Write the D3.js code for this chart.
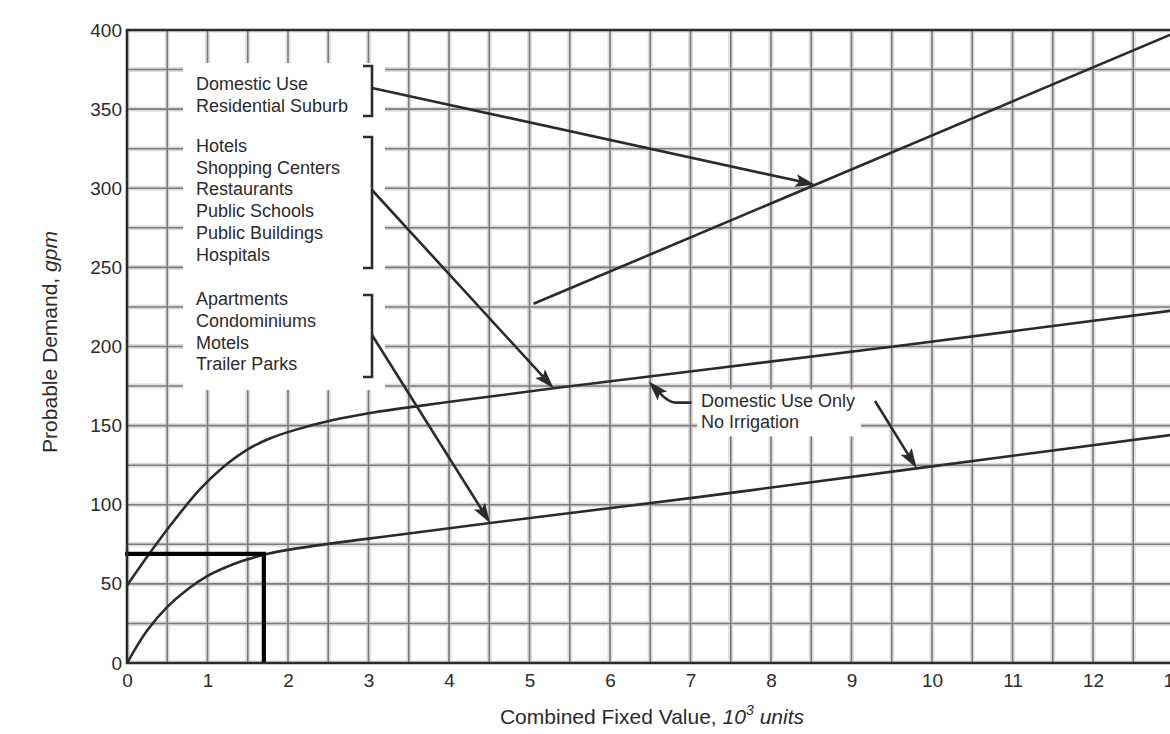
<!DOCTYPE html>
<html>
<head>
<meta charset="utf-8">
<script src="https://cdn.jsdelivr.net/npm/d3@7"></script>
<style>
  html, body { margin: 0; padding: 0; background: #fff; }
  svg { display: block; font-family: "Liberation Sans", Arial, Helvetica, sans-serif; }
</style>
</head>
<body>
<svg id="chart" width="1170" height="734"></svg>
<script>
// Axis tick values
const xTickValues = [0, 1, 2, 3, 4, 5, 6, 7, 8, 9, 10, 11, 12, 13];
const yTickValues = [0, 50, 100, 150, 200, 250, 300, 350, 400];

// Demand curves: [combined fixed value (10^3 units), probable demand (gpm)]
const residentialSuburb = [[5.05, 227], [13.1, 400]];
const commercialInstitutional = [
  [0, 49], [0.29, 70], [0.6, 91], [0.91, 110], [1.2, 124], [1.5, 135],
  [1.78, 142], [2.07, 147], [2.56, 153.5], [3.06, 158.3], [3.64, 162.5],
  [4.2, 166.3], [5.3, 173.6], [7.12, 185], [9.6, 200.5], [12.96, 222.5], [14, 229]
];
const multiFamily = [
  [0, 0], [0.25, 20.5], [0.5, 35.5], [0.75, 46.5], [1.0, 55], [1.25, 61],
  [1.5, 65.5], [1.75, 69], [2.0, 71.5], [2.5, 75.3], [3.0, 78.6], [3.5, 81.8],
  [4.51, 88.5], [7.12, 105], [9.81, 123], [12.96, 144], [14, 151]
];

// Worked example: read-off value and demand
const exampleValue = 1.7;
const exampleDemand = 69;

// Category groups listed in the key
const groupSuburb = ["Domestic Use", "Residential Suburb"];
const groupCommercial = ["Hotels", "Shopping Centers", "Restaurants", "Public Schools", "Public Buildings", "Hospitals"];
const groupMultiFamily = ["Apartments", "Condominiums", "Motels", "Trailer Parks"];
const noteLines = ["Domestic Use Only", "No Irrigation"];

// Where each pointer touches its curve (x in 10^3 units)
const pointerSuburbX = 8.55;
const pointerCommercialX = 5.3;
const pointerMultiX = 4.51;
const pointerNoteMultiX = 9.81;
const pointerNoteCommercialX = 6.48;

const svg = d3.select("#chart");
const ink = "#2b2b2b";

const x = d3.scaleLinear().domain([0, 14]).range([127, 1254]);
const y = d3.scaleLinear().domain([0, 400]).range([663, 30]);

svg.append("defs").append("clipPath").attr("id", "plot-clip")
  .append("rect")
  .attr("x", x(0)).attr("y", y(400))
  .attr("width", x(14) - x(0)).attr("height", y(0) - y(400));

// Grid: every 0.5 unit and every 25 gpm
const gridX = d3.range(0, 14.001, 0.5);
const gridY = d3.range(0, 400.001, 25);
const grid = svg.append("g").attr("clip-path", "url(#plot-clip)");
[["#dedede", 5], ["#7c7c7c", 1.6]].forEach(([color, w]) => {
  grid.append("g").selectAll("line").data(gridX).join("line")
    .attr("x1", d => x(d)).attr("x2", d => x(d))
    .attr("y1", y(0)).attr("y2", y(400))
    .attr("stroke", color).attr("stroke-width", w);
  grid.append("g").selectAll("line").data(gridY).join("line")
    .attr("x1", x(0)).attr("x2", x(14))
    .attr("y1", d => y(d)).attr("y2", d => y(d))
    .attr("stroke", color).attr("stroke-width", w);
});

// Blank panel behind the key
svg.append("rect").attr("x", 183).attr("y", 63).attr("width", 202).attr("height", 327).attr("fill", "#fff");

// Curves
const curveLine = d3.line().x(d => x(d[0])).y(d => y(d[1])).curve(d3.curveCatmullRom.alpha(0.5));
const curves = svg.append("g").attr("clip-path", "url(#plot-clip)");
[residentialSuburb, commercialInstitutional, multiFamily].forEach(series => {
  curves.append("path").attr("d", curveLine(series))
    .attr("fill", "none").attr("stroke", ink).attr("stroke-width", 2.6);
});

// Worked example lines
svg.append("path")
  .attr("d", `M${x(0) - 2},${y(exampleDemand)}H${x(exampleValue)}V${y(0)}`)
  .attr("fill", "none").attr("stroke", "#000").attr("stroke-width", 4.2);

// Frame and axes
const frame = svg.append("g").attr("stroke", ink).attr("stroke-width", 2.6).attr("fill", "none");
frame.append("path").attr("d", `M${x(14)},${y(400)}H${x(0)}V${y(0)}H${x(14)}`);

const xAxis = svg.append("g").attr("transform", `translate(0,${y(0)})`)
  .call(d3.axisBottom(x).tickValues(xTickValues).tickSize(0).tickPadding(11).tickFormat(d3.format("d")));
const yAxis = svg.append("g").attr("transform", `translate(${x(0)},0)`)
  .call(d3.axisLeft(y).tickValues(yTickValues).tickSize(0).tickPadding(5).tickFormat(d3.format("d")));
[xAxis, yAxis].forEach(a => {
  a.select(".domain").remove();
  a.selectAll("text").attr("font-size", 19).attr("fill", ink)
    .attr("font-family", '"Liberation Sans", Arial, Helvetica, sans-serif');
});

// Axis titles
const xTitle = svg.append("text").attr("x", 652).attr("y", 724)
  .attr("text-anchor", "middle").attr("font-size", 21).attr("fill", ink);
xTitle.append("tspan").text("Combined Fixed Value, ");
xTitle.append("tspan").attr("font-style", "italic").text("10");
xTitle.append("tspan").attr("font-style", "italic").attr("font-size", 14).attr("dy", -9).text("3");
xTitle.append("tspan").attr("font-style", "italic").attr("dy", 9).attr("dx", 6).text("units");

const yTitle = svg.append("text").attr("transform", "translate(57,342) rotate(-90)")
  .attr("text-anchor", "middle").attr("font-size", 21).attr("fill", ink);
yTitle.append("tspan").text("Probable Demand, ");
yTitle.append("tspan").attr("font-style", "italic").text("gpm");

// Key text and brackets
const key = svg.append("g").attr("font-size", 18).attr("fill", ink);
const groups = [
  { lines: groupSuburb, first: 90, top: 66, bottom: 116, from: [372, 88] },
  { lines: groupCommercial, first: 151.7, top: 137, bottom: 268, from: [372, 190] },
  { lines: groupMultiFamily, first: 305, top: 295, bottom: 377, from: [372, 335] }
];
const lineStep = 21.8;
groups.forEach(gp => {
  gp.lines.forEach((t, i) => {
    key.append("text").attr("x", 196).attr("y", gp.first + i * lineStep).text(t);
  });
  svg.append("path").attr("d", `M363,${gp.top}H372V${gp.bottom}H363`)
    .attr("fill", "none").attr("stroke", ink).attr("stroke-width", 2.6);
});

// Value of a series at a given x
function valueAt(series, vx) {
  for (let i = 1; i < series.length; i++) {
    const [x0, y0] = series[i - 1], [x1, y1] = series[i];
    if (vx <= x1) return y0 + (y1 - y0) * (vx - x0) / (x1 - x0);
  }
  return series[series.length - 1][1];
}

// Arrowhead at tip, pointing away from `from`; returns where the shaft should end
function arrowHead(tip, from) {
  const dx = tip[0] - from[0], dy = tip[1] - from[1];
  const len = Math.hypot(dx, dy), ux = dx / len, uy = dy / len;
  const L = 20, W = 6.5;
  const bx = tip[0] - ux * L, by = tip[1] - uy * L;
  svg.append("path")
    .attr("d", `M${tip[0]},${tip[1]}L${bx - uy * W},${by + ux * W}L${tip[0] - ux * (L - 4)},${tip[1] - uy * (L - 4)}L${bx + uy * W},${by - ux * W}Z`)
    .attr("fill", ink);
  return [tip[0] - ux * (L - 5), tip[1] - uy * (L - 5)];
}

function straightArrow(from, tip) {
  const end = arrowHead(tip, from);
  svg.append("line").attr("x1", from[0]).attr("y1", from[1]).attr("x2", end[0]).attr("y2", end[1])
    .attr("stroke", ink).attr("stroke-width", 2.6);
}

const tipSuburb = [x(pointerSuburbX), y(valueAt(residentialSuburb, pointerSuburbX))];
const tipCommercial = [x(pointerCommercialX), y(valueAt(commercialInstitutional, pointerCommercialX))];
const tipMulti = [x(pointerMultiX), y(valueAt(multiFamily, pointerMultiX))];
straightArrow(groups[0].from, tipSuburb);
straightArrow(groups[1].from, tipCommercial);
straightArrow(groups[2].from, tipMulti);

// Note with its own panel and two pointers
const note = svg.append("g");
const noteBg = note.append("rect").attr("fill", "#fff");
const noteText = note.append("g").attr("font-size", 18).attr("fill", ink);
noteLines.forEach((t, i) => noteText.append("text").attr("x", 701).attr("y", 407.3 + i * 21).text(t));
const nb = noteText.node().getBBox();
noteBg.attr("x", nb.x - 4).attr("y", nb.y - 2).attr("width", nb.width + 10).attr("height", nb.height + 6);

// Hooked pointer up to the commercial curve
const tipHook = [x(pointerNoteCommercialX), y(valueAt(commercialInstitutional, pointerNoteCommercialX)) + 5];
const hookStart = [tipHook[0] + 43, tipHook[1] + 21];
const hookCorner = [tipHook[0] + 20, tipHook[1] + 21];
const hookEnd = arrowHead(tipHook, hookCorner);
svg.append("path")
  .attr("d", `M${hookStart[0]},${hookStart[1]}L${hookCorner[0] + 7},${hookCorner[1]}Q${hookCorner[0]},${hookCorner[1]} ${hookEnd[0]},${hookEnd[1]}`)
  .attr("fill", "none").attr("stroke", ink).attr("stroke-width", 2.6);

// Pointer down to the multi-family curve
const tipNoteMulti = [x(pointerNoteMultiX), y(valueAt(multiFamily, pointerNoteMultiX))];
straightArrow([875, 401], tipNoteMulti);
</script>
</body>
</html>
